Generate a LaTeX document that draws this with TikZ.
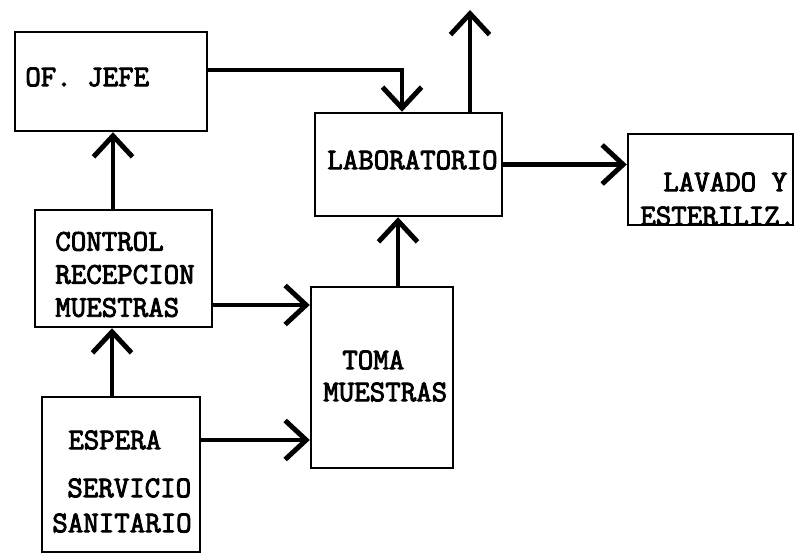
\documentclass[tikz,border=0pt]{standalone}
\usepackage{fontspec}
\setmonofont{Latin Modern Mono}[AutoFakeBold=3]
\usepackage{tikz}
\usetikzlibrary{arrows.meta}

\begin{document}
\begin{tikzpicture}[
    >={Straight Barb[length=0.42cm,width=0.78cm,line width=2.8pt]},
    box/.style={draw,line width=1.4pt,inner sep=0pt},
    txt/.style={anchor=west,inner sep=0pt,font=\fontsize{17.1}{18.8}\selectfont\ttfamily\bfseries},
    arr/.style={->,line width=2.4pt}
]
\useasboundingbox (0,0) rectangle (16,11.08);

\node[box,minimum width=3.84cm,minimum height=1.98cm] (OJ)  at (2.22,9.45) {};
\node[box,minimum width=3.74cm,minimum height=2.06cm] (LAB) at (8.17,7.79) {};
\node[box,minimum width=3.30cm,minimum height=1.82cm] (LAV) at (14.21,7.49) {};
\node[box,minimum width=3.54cm,minimum height=2.34cm] (CR)  at (2.47,5.71) {};
\node[box,minimum width=2.84cm,minimum height=3.62cm] (TM)  at (7.64,3.53) {};
\node[box,minimum width=3.16cm,minimum height=3.10cm] (ES)  at (2.42,1.59) {};
\coordinate (salida) at (9.40,10.88);

\node[txt] at (0.50,9.54) {OF. JEFE};
\node[txt] at (6.54,7.88) {LABORATORIO};
\node[txt] at (13.26,7.44) {LAVADO Y};
\node[txt] at (12.80,6.76) {ESTERILIZ.};
\node[txt,align=left] at (1.10,5.59) {CONTROL\\RECEPCION\\MUESTRAS};
\node[txt] at (6.84,3.88) {TOMA};
\node[txt] at (6.46,3.24) {MUESTRAS};
\node[txt] at (1.36,2.28) {ESPERA};
\node[txt] at (1.34,1.32) {SERVICIO};
\node[txt] at (1.04,0.62) {SANITARIO};

\draw[arr] ([xshift=-0.18cm]ES.north) -- ([xshift=-0.18cm]ES.north |- CR.south);
\draw[arr] ([xshift=-0.21cm]CR.north) -- ([xshift=-0.21cm]CR.north |- OJ.south);
\draw[arr] ([yshift=0.23cm]OJ.east) -| ([xshift=-0.13cm]LAB.north);
\draw[arr] (LAB.north -| salida) -- (salida);
\draw[arr] (LAB.east) -- (LAB.east -| LAV.west);
\draw[arr] ([yshift=-0.73cm]CR.east) -- ([yshift=-0.73cm]CR.east -| TM.west);
\draw[arr] ([yshift=0.69cm]ES.east) -- ([yshift=0.69cm]ES.east -| TM.west);
\draw[arr] ([xshift=0.32cm]TM.north) -- ([xshift=0.32cm]TM.north |- LAB.south);
\end{tikzpicture}
\end{document}
